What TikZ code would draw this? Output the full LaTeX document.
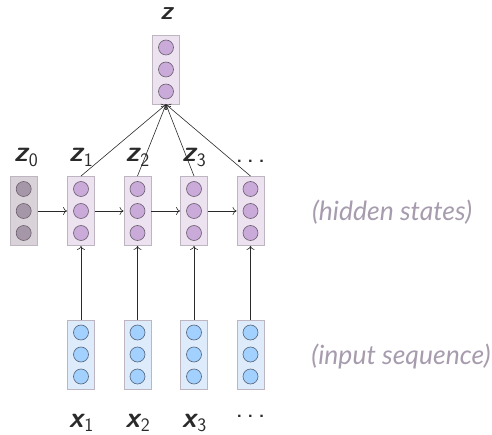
\documentclass[tikz,border=0pt]{standalone}
\usepackage{fontspec}
\setmainfont{Lato}
\usetikzlibrary{arrows.meta,calc}

\definecolor{hidfill}{HTML}{EDE3F0}
\definecolor{hidcirc}{HTML}{C9AAD9}
\definecolor{initfill}{HTML}{D9D3D9}
\definecolor{initcirc}{HTML}{A597A8}
\definecolor{inpfill}{HTML}{DDEBFA}
\definecolor{inpcirc}{HTML}{A2D0FF}
\definecolor{boxline}{HTML}{BDB6C0}
\definecolor{circline}{HTML}{6A5F6E}
\definecolor{inpline}{HTML}{56657A}
\definecolor{notecol}{HTML}{A79CAE}
\definecolor{linkcol}{HTML}{2A2A2A}

% bold oblique sans symbol with a lowered upright subscript
\newcommand{\vsym}[2]{{\sffamily\bfseries\itshape #1}\kern1pt\raisebox{-0.14em}{\sffamily\fontsize{19}{19}\selectfont #2}}
% widely spaced continuation dots
\newcommand{\contdots}{{\sffamily .\kern3.5pt.\kern3.5pt.}}

\tikzset{
  vecbox/.style={draw=boxline, line width=0.9pt, minimum width=27pt, minimum height=69pt, inner sep=0pt},
  unit/.style={circle, draw=circline, line width=0.6pt, minimum size=15pt, inner sep=0pt},
  lbl/.style={font=\fontsize{29}{29}\selectfont, text=linkcol, anchor=base, inner sep=0pt},
  note/.style={font=\fontsize{26.5}{26.5}\selectfont\itshape, text=notecol},
  link/.style={draw=linkcol, line width=0.6pt, -{To[length=4pt,width=8pt]}}
}

% a column vector: box plus three units
\newcommand{\vecnode}[5]{%
  \node[vecbox, fill=#4] (#1) at (#2,#3) {};
  \foreach \k/\dy in {1/22,2/0,3/-22}
    \node[unit, fill=#5, draw=circline] (#1-\k) at ($(#1.center)+(0,\dy)$) {};
}

\begin{document}
\begin{tikzpicture}[x=1pt,y=1pt]
\useasboundingbox (0,0) rectangle (492,-435);

% summary vector
\vecnode{z}{166}{-69.5}{hidfill}{hidcirc}
\node[lbl, font=\fontsize{26}{26}\selectfont] (lz) at (167,-20) {\vsym{z}{}};

% hidden states
\vecnode{h0}{23.7}{-211}{initfill}{initcirc}
\vecnode{h1}{81}{-211}{hidfill}{hidcirc}
\vecnode{h2}{137.5}{-211}{hidfill}{hidcirc}
\vecnode{h3}{194}{-211}{hidfill}{hidcirc}
\vecnode{h4}{250.5}{-211}{hidfill}{hidcirc}

% input sequence
\foreach \n/\x in {1/81,2/137.5,3/194,4/250.5}{
  \node[vecbox, fill=inpfill] (x\n) at (\x,-354.5) {};
  \foreach \k/\dy in {1/22,2/0,3/-22}
    \node[unit, fill=inpcirc, draw=inpline] (x\n-\k) at ($(x\n.center)+(0,\dy)$) {};
}

% labels
\node[lbl] (l0) at (26,-162) {\vsym{z}{0}};
\node[lbl] (l1) at (81,-162) {\vsym{z}{1}};
\node[lbl] (l2) at (137.5,-162) {\vsym{z}{2}};
\node[lbl] (l3) at (194,-162) {\vsym{z}{3}};
\node[lbl] (l4) at (250.5,-163) {\contdots};
\node[lbl] (k1) at (81,-427) {\vsym{x}{1}};
\node[lbl] (k2) at (137.5,-427) {\vsym{x}{2}};
\node[lbl] (k3) at (194,-427) {\vsym{x}{3}};
\node[lbl] (k4) at (250.5,-417) {\contdots};

\node[note] (nh) at (392,-212) {(hidden states)};
\node[note] (ni) at (401,-357) {(input sequence)};

% recurrence
\draw[link] (h0.east) -- (h1.west);
\draw[link] (h1.east) -- (h2.west);
\draw[link] (h2.east) -- (h3.west);
\draw[link] (h3.east) -- (h4.west);

% inputs feed hidden states
\foreach \n in {1,2,3,4}
  \draw[link] (x\n.north) -- (h\n.south);

% hidden states pooled into z
\foreach \n in {1,2,3,4}
  \draw[link] (h\n.north) -- (z.south);
\end{tikzpicture}
\end{document}
